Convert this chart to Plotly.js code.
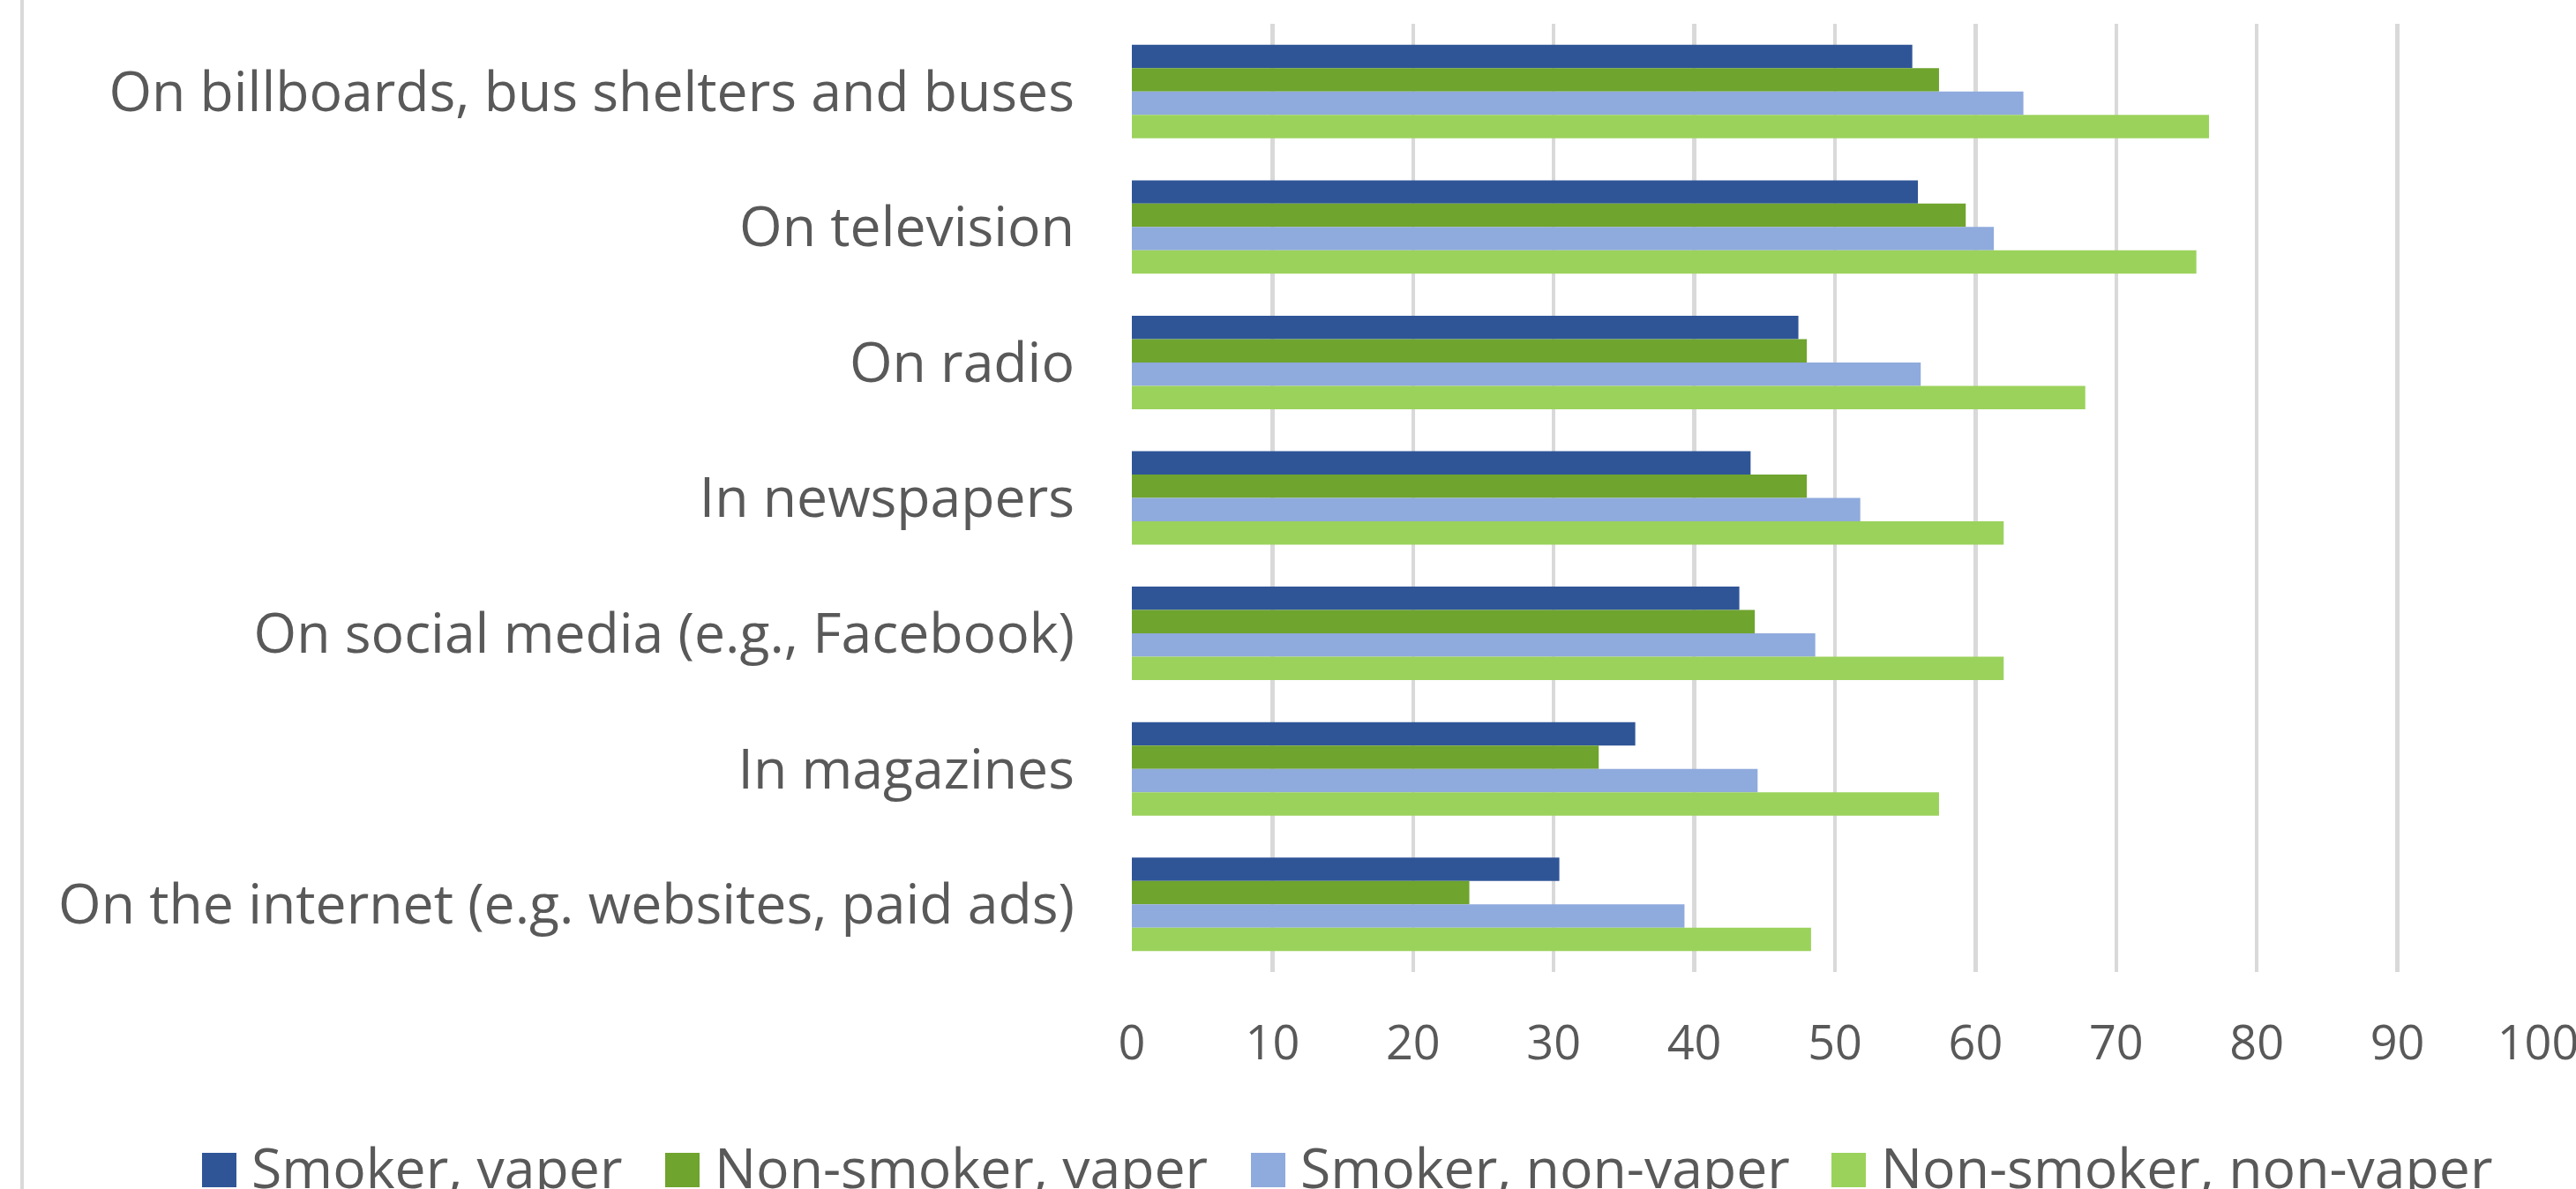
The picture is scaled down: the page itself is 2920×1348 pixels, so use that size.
<!DOCTYPE html>
<html>
<head>
<meta charset="utf-8">
<script src="https://cdn.plot.ly/plotly-3.0.1.min.js"></script>
<style>
  html, body { margin: 0; padding: 0; background: #ffffff; }
  #chart { width: 2920px; height: 1348px; }
</style>
</head>
<body>
<div id="chart"></div>
<script>
// ---- Data ----
const categories = [
  "On billboards, bus shelters and buses",
  "On television",
  "On radio",
  "In newspapers",
  "On social media (e.g., Facebook)",
  "In magazines",
  "On the internet (e.g. websites, paid ads)"
];
const seriesNames = ["Smoker, vaper", "Non-smoker, vaper", "Smoker, non-vaper", "Non-smoker, non-vaper"];
const smokerVaper       = [55.5, 55.9, 47.4, 44.0, 43.2, 35.8, 30.4];
const nonSmokerVaper    = [57.4, 59.3, 48.0, 48.0, 44.3, 33.2, 24.0];
const smokerNonVaper    = [63.4, 61.3, 56.1, 51.8, 48.6, 44.5, 39.3];
const nonSmokerNonVaper = [76.6, 75.7, 67.8, 62.0, 62.0, 57.4, 48.3];
const xTickVals = [0, 10, 20, 30, 40, 50, 60, 70, 80, 90, 100];

// ---- Styling ----
const colors = ["#2F5597", "#6FA42E", "#8FAADC", "#9BD25C"];
const seriesValues = [smokerVaper, nonSmokerVaper, smokerNonVaper, nonSmokerNonVaper];
const textColor = "#595959";
const gridColor = "#D9D9D9";
const FONT = "Open Sans, Noto Sans, sans-serif";

const W = 2920, H = 1348;
const M = { l: 1283, r: 43, t: 27, b: 246 };
const plotW = W - M.l - M.r, plotH = H - M.t - M.b;
const px2x = p => (p - M.l) / plotW;
const px2y = p => (H - M.b - p) / plotH;

const traces = seriesNames.map((name, i) => ({
  type: "bar",
  orientation: "h",
  name: name,
  y: categories,
  x: seriesValues[i],
  marker: { color: colors[i], line: { width: 0 } },
  showlegend: false,
  hoverinfo: "x+name"
}));

// custom legend (large square swatches)
const legendSwatchX = [229, 754, 1418, 2076];
const swatch = 39;
const shapes = [];
const annotations = [];
seriesNames.forEach((name, i) => {
  shapes.push({
    type: "rect", xref: "paper", yref: "paper",
    x0: px2x(legendSwatchX[i]), x1: px2x(legendSwatchX[i] + swatch),
    y0: px2y(1346), y1: px2y(1346 - swatch),
    fillcolor: colors[i], line: { width: 0 }
  });
  annotations.push({
    xref: "paper", yref: "paper",
    x: px2x(legendSwatchX[i] + swatch + 15), y: px2y(1322),
    xanchor: "left", yanchor: "middle",
    text: name, showarrow: false,
    font: { family: FONT, size: 62.5, color: textColor }
  });
});
// outer chart-area border (left edge)
shapes.push({
  type: "line", xref: "paper", yref: "paper",
  x0: px2x(25), x1: px2x(25), y0: px2y(0), y1: px2y(H),
  line: { color: gridColor, width: 4 }
});

const layout = {
  width: W, height: H,
  margin: M,
  paper_bgcolor: "#ffffff",
  plot_bgcolor: "#ffffff",
  barmode: "group",
  bargap: 0.31,
  bargroupgap: 0,
  font: { family: FONT, color: textColor },
  xaxis: {
    range: [0, 100],
    tickvals: xTickVals,
    ticktext: xTickVals.map(String),
    showgrid: true, gridcolor: gridColor, gridwidth: 4.5,
    zeroline: false, showline: false, ticks: "",
    tickfont: { family: FONT, size: 54, color: textColor },
    ticklabelstandoff: 44,
    ticklabeloverflow: "allow",
    fixedrange: true
  },
  yaxis: {
    type: "category",
    autorange: "reversed",
    showgrid: false, zeroline: false, showline: false, ticks: "",
    tickfont: { family: FONT, size: 62.5, color: textColor },
    ticklabelstandoff: 64,
    fixedrange: true
  },
  shapes: shapes,
  annotations: annotations,
  showlegend: false
};

Plotly.newPlot("chart", traces, layout, { displayModeBar: false, staticPlot: true });
</script>
</body>
</html>
